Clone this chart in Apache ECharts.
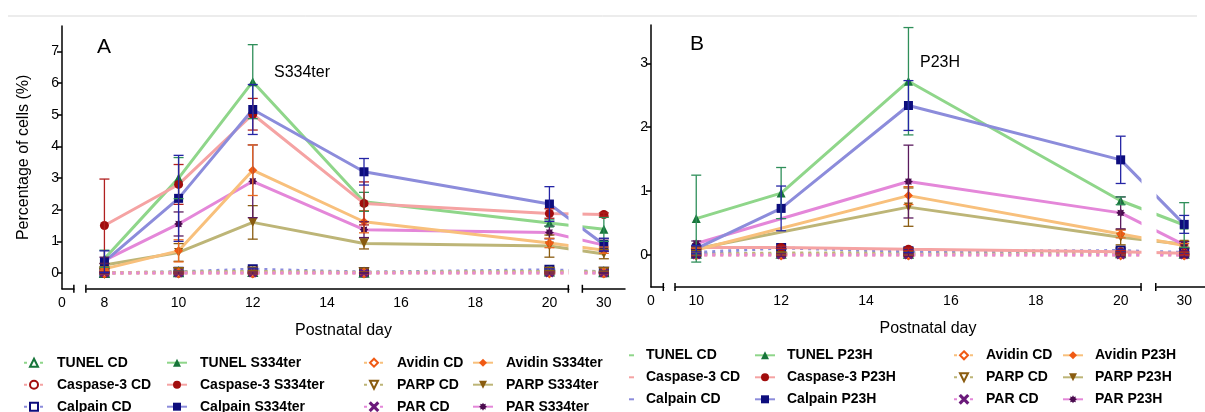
<!DOCTYPE html>
<html><head><meta charset="utf-8">
<script src="https://cdn.jsdelivr.net/npm/echarts@6/dist/echarts.min.js"></script>
<style>html,body{margin:0;padding:0;background:#fff}#c{width:1205px;height:412px}</style>
</head><body><div id="c"></div>
<script>
// ---------- data ----------
const daysA = [8, 10, 12, 15, 20, 30];
const daysB = [10, 12, 15, 20, 30];
const xLabelsA = [0, 8, 10, 12, 14, 16, 18, 20, 30];
const xLabelsB = [0, 10, 12, 14, 16, 18, 20, 30];
const yTicksA = [0, 1, 2, 3, 4, 5, 6, 7];
const yTicksB = [0, 1, 2, 3];

// Panel A, S334ter
const tunelS = [0.45, 3.0, 6.05, 2.25, 1.58, 1.38];
const tunelSErr = [0.27, 0.65, 1.17, 0.3, 0.1, 0.38];
const casS = [1.5, 2.8, 5.02, 2.2, 1.88, 1.85];
const casSErr = [1.47, 0.63, 0.5, 0.68, 0.15, 0.05];
const calS = [0.36, 2.36, 5.17, 3.2, 2.18, 0.9];
const calSErr = [0.34, 1.36, 0.79, 0.42, 0.55, 0.2];
const avS = [0.13, 0.7, 3.25, 1.62, 0.95, 0.72];
const avSErr = [0.05, 0.35, 0.8, 0.35, 0.15, 0.1];
const parpS = [0.25, 0.65, 1.6, 0.93, 0.85, 0.6];
const parpSErr = [0.05, 0.28, 0.53, 0.17, 0.35, 0.15];
const parS = [0.4, 1.55, 2.9, 1.37, 1.28, 0.88];
const parSErr = [0.1, 0.38, 1.15, 0.25, 0.2, 0.2];
// Panel A, CD
const tunelCDA = [0.0, 0.02, 0.03, 0.01, 0.05, 0.02];
const casCDA = [0.0, 0.01, 0.01, 0.01, 0.03, 0.01];
const calCDA = [0.0, 0.04, 0.12, 0.03, 0.1, 0.04];
const avCDA = [0, 0, 0, 0, 0, 0];
const parpCDA = [0.01, 0.03, 0.05, 0.02, 0.04, 0.04];
const parCDA = [0, 0, 0, 0, 0, 0];
const cdErrA = [0.02, 0.03, 0.03, 0.02, 0.03, 0.02];

// Panel B, P23H
const tunelP = [0.57, 0.97, 2.72, 0.85, 0.47];
const tunelPErr = [0.68, 0.4, 0.84, 0.06, 0.35];
const casP = [0.12, 0.12, 0.09, 0.05, 0.03];
const casPErr = [0.02, 0.02, 0.02, 0.02, 0.02];
const calP = [0.1, 0.73, 2.34, 1.49, 0.48];
const calPErr = [0.05, 0.35, 0.39, 0.37, 0.14];
const avP = [0.08, null, 0.93, 0.33, 0.15];
const avPErr = [0.03, null, 0.14, 0.06, 0.03];
const parpP = [0.1, null, 0.75, 0.28, 0.17];
const parpPErr = [0.03, null, 0.3, 0.12, 0.05];
const parP = [0.18, null, 1.15, 0.66, 0.16];
const parPErr = [0.04, null, 0.57, 0.25, 0.05];
// Panel B, CD
const tunelCDB = [0.02, 0.02, 0.02, 0.03, 0.02];
const casCDB = [0.01, 0.01, 0.01, 0.02, 0.01];
const calCDB = [0.04, 0.11, 0.06, 0.07, 0.04];
const avCDB = [0, 0, 0, 0, 0];
const parpCDB = [0.02, 0.03, 0.04, 0.04, 0.03];
const parCDB = [0, 0, 0, 0, 0];
const cdErrB = [0.02, 0.02, 0.02, 0.02, 0.02];

// axis breaks (start, end of each broken stretch of days)
const breaksA = [[0.32, 7.5], [20.51, 29.42]];
const breaksB = [[0.29, 9.5], [20.48, 29.33]];

// ---------- styles ----------
const FONT = '"Liberation Sans", Arial, Helvetica, sans-serif';
function starPath() {
  let d = '';
  for (let i = 0; i < 16; i++) {
    const r = i % 2 ? 6.5 : 10, a = Math.PI * i / 8;
    d += (i ? 'L' : 'M') + (10 + r * Math.sin(a)).toFixed(2) + ',' + (10 - r * Math.cos(a)).toFixed(2);
  }
  return 'path://' + d + 'Z';
}
const XPATH = 'path://M1,0L5,4L9,0L10,1L6,5L10,9L9,10L5,6L1,10L0,9L4,5L0,1Z';
const STY = {
  TUNEL:   {line: '#8fd68a', mark: '#17753a', err: '#2f8f5a', sym: 'triangle', cd: 'emptyTriangle', rot: 0},
  Caspase: {line: '#f5a3a3', mark: '#a10d0d', err: '#b02020', sym: 'circle', cd: 'emptyCircle', rot: 0},
  Calpain: {line: '#8c8cdb', mark: '#0d0d7d', err: '#2525a5', sym: 'rect', cd: 'emptyRect', rot: 0},
  Avidin:  {line: '#f8c07c', mark: '#f05a14', err: '#e86a20', sym: 'diamond', cd: 'emptyDiamond', rot: 0},
  PARP:    {line: '#bdb577', mark: '#8a5c10', err: '#8a5c10', sym: 'triangle', cd: 'emptyTriangle', rot: 180},
  PAR:     {line: '#e487d9', mark: '#4a0b4e', err: '#5a1a5e', sym: starPath(), cd: XPATH, rot: 0, cdMark: '#6a1a7a', cdSize: 7}
};

const series = [];
function add(name, key, isCD, g, days, vals, errs) {
  const s = STY[key];
  const pts = [], ebs = [];
  days.forEach((d, i) => {
    if (vals[i] == null) return;
    pts.push([d, vals[i]]);
    ebs.push([d, vals[i] - errs[i], vals[i] + errs[i]]);
  });
  const mk = isCD && s.cdMark ? s.cdMark : s.mark;
  series.push({
    type: 'line', name, xAxisIndex: g, yAxisIndex: g, data: pts, animation: false,
    symbol: isCD ? s.cd : s.sym, symbolSize: isCD ? (s.cdSize || 8) : 9, symbolRotate: s.rot,
    lineStyle: {color: s.line, width: 3, type: isCD ? [3, 5] : 'solid'},
    itemStyle: {color: mk, borderColor: mk, borderWidth: isCD ? 1.5 : 0},
    emphasis: {disabled: true}, z: 3
  });
  series.push({
    type: 'custom', xAxisIndex: g, yAxisIndex: g, data: ebs, z: 4, silent: true, animation: false,
    encode: {x: 0, y: [1, 2]}, clip: false,
    renderItem: (p, api) => {
      const x = api.value(0);
      const lo = api.coord([x, api.value(1)]), hi = api.coord([x, api.value(2)]);
      const hw = 5, st = {stroke: s.err, lineWidth: 1.3};
      return {type: 'group', children: [
        {type: 'line', shape: {x1: lo[0], y1: lo[1], x2: hi[0], y2: hi[1]}, style: st},
        {type: 'line', shape: {x1: hi[0] - hw, y1: hi[1], x2: hi[0] + hw, y2: hi[1]}, style: st},
        {type: 'line', shape: {x1: lo[0] - hw, y1: lo[1], x2: lo[0] + hw, y2: lo[1]}, style: st}
      ]};
    }
  });
}
// Panel A
add('Calpain CD', 'Calpain', true, 0, daysA, calCDA, cdErrA);
add('TUNEL CD', 'TUNEL', true, 0, daysA, tunelCDA, cdErrA);
add('Caspase-3 CD', 'Caspase', true, 0, daysA, casCDA, cdErrA);
add('PARP CD', 'PARP', true, 0, daysA, parpCDA, cdErrA);
add('Avidin CD', 'Avidin', true, 0, daysA, avCDA, cdErrA);
add('PAR CD', 'PAR', true, 0, daysA, parCDA, cdErrA);
add('PARP S334ter', 'PARP', false, 0, daysA, parpS, parpSErr);
add('PAR S334ter', 'PAR', false, 0, daysA, parS, parSErr);
add('Avidin S334ter', 'Avidin', false, 0, daysA, avS, avSErr);
add('TUNEL S334ter', 'TUNEL', false, 0, daysA, tunelS, tunelSErr);
add('Caspase-3 S334ter', 'Caspase', false, 0, daysA, casS, casSErr);
add('Calpain S334ter', 'Calpain', false, 0, daysA, calS, calSErr);
// Panel B
add('TUNEL CD', 'TUNEL', true, 1, daysB, tunelCDB, cdErrB);
add('Caspase-3 CD', 'Caspase', true, 1, daysB, casCDB, cdErrB);
add('PARP CD', 'PARP', true, 1, daysB, parpCDB, cdErrB);
add('Avidin CD', 'Avidin', true, 1, daysB, avCDB, cdErrB);
add('PAR CD', 'PAR', true, 1, daysB, parCDB, cdErrB);
add('Calpain CD', 'Calpain', true, 1, daysB, calCDB, cdErrB);
add('Caspase-3 P23H', 'Caspase', false, 1, daysB, casP, casPErr);
add('PARP P23H', 'PARP', false, 1, daysB, parpP, parpPErr);
add('Avidin P23H', 'Avidin', false, 1, daysB, avP, avPErr);
add('PAR P23H', 'PAR', false, 1, daysB, parP, parPErr);
add('TUNEL P23H', 'TUNEL', false, 1, daysB, tunelP, tunelPErr);
add('Calpain P23H', 'Calpain', false, 1, daysB, calP, calPErr);

// ---------- axes ----------
const breakArea = {
  show: true, expandOnClick: false, zigzagAmplitude: 0, zigzagZ: 100,
  itemStyle: {color: '#fff', borderColor: '#fff', borderWidth: 0, opacity: 1}
};
function xAxis(g, max, brk, gaps, labels) {
  return {
    type: 'value', gridIndex: g, min: 0, max: max,
    breaks: brk.map((b, i) => ({start: b[0], end: b[1], gap: gaps[i]})), breakArea: breakArea,
    name: 'Postnatal day', nameLocation: 'middle', nameGap: 34,
    nameTextStyle: {fontFamily: FONT, fontSize: 16, color: '#000'},
    axisLine: {onZero: false, lineStyle: {color: '#000', width: 1.5}},
    axisTick: {show: false},
    axisLabel: {customValues: labels, fontFamily: FONT, fontSize: 14, color: '#000', margin: 7,
      formatter: v => String(v)},
    splitLine: {show: false}
  };
}
function yAxis(g, max, ticks, name) {
  return {
    type: 'value', gridIndex: g, min: -0.5, max: max,
    name: name, nameLocation: 'middle', nameGap: 30, nameRotate: 90,
    nameTextStyle: {fontFamily: FONT, fontSize: 16, color: '#000'},
    axisLine: {show: true, lineStyle: {color: '#000', width: 1.5}},
    axisTick: {show: true, customValues: ticks, length: 5, lineStyle: {color: '#000', width: 1.5}},
    axisLabel: {customValues: ticks, fontFamily: FONT, fontSize: 14, color: '#000', margin: 3},
    splitLine: {show: false}
  };
}

// ---------- legends ----------
const legendText = pad => ({fontFamily: FONT, fontSize: 14, fontWeight: 'bold', color: '#000',
  lineHeight: 16, padding: [0, 0, 0, pad]});
function legendCol(left, top, names, pad, extra) {
  return Object.assign({
    orient: 'vertical', left: left, top: top, height: 90, padding: 0, itemGap: 6,
    itemWidth: 20, itemHeight: 10, selectedMode: false, data: names,
    textStyle: legendText(pad)
  }, extra || {});
}
const dashItem = (n, key) => ({name: n, icon: 'rect', itemStyle: {color: STY[key].line, borderWidth: 0}});

const graphics = [
  {type: 'line', shape: {x1: 8, y1: 16, x2: 1197, y2: 16}, style: {stroke: '#d9d9d9', lineWidth: 1}, silent: true},
  {type: 'text', x: 97, y: 47, style: {text: 'A', font: '21px ' + FONT, fill: '#000', verticalAlign: 'middle'}},
  {type: 'text', x: 274, y: 73, style: {text: 'S334ter', font: '16px ' + FONT, fill: '#000', verticalAlign: 'middle'}},
  {type: 'text', x: 690, y: 44, style: {text: 'B', font: '21px ' + FONT, fill: '#000', verticalAlign: 'middle'}},
  {type: 'text', x: 920, y: 63, style: {text: 'P23H', font: '16px ' + FONT, fill: '#000', verticalAlign: 'middle'}}
];

const option = {
  backgroundColor: '#fff',
  animation: false,
  grid: [
    {left: 62, top: 26, width: 563, height: 262.8},
    {left: 651, top: 25, width: 554, height: 262}
  ],
  xAxis: [
    xAxis(0, 30.57, breaksA, [0.324, 0.378], xLabelsA),
    xAxis(1, 30.49, breaksB, [0.276, 0.347], xLabelsB)
  ],
  yAxis: [
    yAxis(0, 7.81, yTicksA, 'Percentage of cells (%)'),
    yAxis(1, 3.6, yTicksB, '')
  ],
  legend: [
    legendCol(23, 354.7, ['TUNEL CD', 'Caspase-3 CD', 'Calpain CD'], 8),
    legendCol(166, 354.7, ['TUNEL S334ter', 'Caspase-3 S334ter', 'Calpain S334ter'], 8),
    legendCol(363, 354.7, ['Avidin CD', 'PARP CD', 'PAR CD'], 8),
    legendCol(472, 354.7, ['Avidin S334ter', 'PARP S334ter', 'PAR S334ter'], 8),
    legendCol(629, 347.3, [dashItem('TUNEL CD', 'TUNEL'), dashItem('Caspase-3 CD', 'Caspase'),
      dashItem('Calpain CD', 'Calpain')], 7, {itemWidth: 5, itemHeight: 2}),
    legendCol(754, 347.3, ['TUNEL P23H', 'Caspase-3 P23H', 'Calpain P23H'], 7),
    legendCol(953, 347.3, ['Avidin CD', 'PARP CD', 'PAR CD'], 7),
    legendCol(1062, 347.3, ['Avidin P23H', 'PARP P23H', 'PAR P23H'], 7)
  ],
  graphic: graphics,
  series: series
};
const chart = echarts.init(document.getElementById('c'), null, {renderer: 'canvas'});
chart.setOption(option);

// end caps of the broken x-axis segments, placed through the axis scale
const caps = [];
[[0, breaksA], [1, breaksB]].forEach(([g, brk]) => {
  brk.forEach(b => b.forEach(v => {
    const p = chart.convertToPixel({gridIndex: g}, [v, -0.5]);
    caps.push({type: 'line', z: 300, silent: true,
      shape: {x1: p[0], y1: p[1] - 4, x2: p[0], y2: p[1] + 4},
      style: {stroke: '#000', lineWidth: 1.5}});
  }));
});
chart.setOption({graphic: graphics.concat(caps)});
</script></body></html>
